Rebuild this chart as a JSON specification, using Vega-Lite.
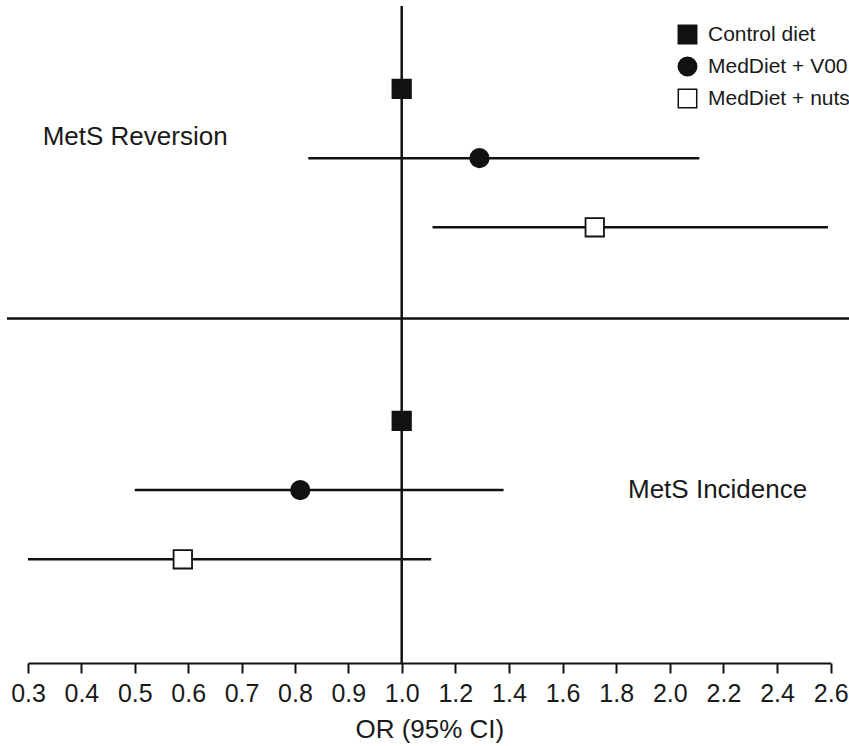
{
  "$schema": "https://vega.github.io/schema/vega-lite/v6.json",
  "width": 842,
  "height": 657,
  "autosize": {"type": "none"},
  "padding": {"left": 7, "top": 6, "right": 0, "bottom": 83},
  "background": "white",
  "config": {
    "font": "Liberation Sans",
    "view": {"stroke": null},
    "axis": {
      "domainColor": "#111111",
      "domainWidth": 2,
      "tickColor": "#111111",
      "tickWidth": 2,
      "tickSize": 10,
      "labelColor": "#1a1a1a",
      "labelFontSize": 25,
      "labelPadding": 8,
      "labelFlush": false,
      "labelOverlap": false,
      "labelBound": false,
      "titleColor": "#1a1a1a",
      "titleFontSize": 26,
      "titleFontWeight": "normal",
      "titlePadding": 10,
      "grid": false
    }
  },
  "datasets": {
    "est": [
      {"outcome": "MetS Reversion", "group": "Control diet", "row": 1.2, "or": 1.0, "lo": null, "hi": null},
      {"outcome": "MetS Reversion", "group": "MedDiet + V00", "row": 2.2, "or": 1.29, "lo": 0.825, "hi": 2.11},
      {"outcome": "MetS Reversion", "group": "MedDiet + nuts", "row": 3.2, "or": 1.72, "lo": 1.115, "hi": 2.59},
      {"outcome": "MetS Incidence", "group": "Control diet", "row": 6.0, "or": 1.0, "lo": null, "hi": null},
      {"outcome": "MetS Incidence", "group": "MedDiet + V00", "row": 7.0, "or": 0.81, "lo": 0.5, "hi": 1.38},
      {"outcome": "MetS Incidence", "group": "MedDiet + nuts", "row": 8.0, "or": 0.59, "lo": 0.3, "hi": 1.11}
    ],
    "labels": [
      {"label": "MetS Reversion", "or": 0.3275, "row": 2.01},
      {"label": "MetS Incidence", "or": 1.844, "row": 7.11}
    ]
  },
  "layer": [
    {
      "data": {"name": "est"},
      "transform": [{"filter": "datum.lo != null"}],
      "mark": {"type": "rule", "color": "#111111", "strokeWidth": 2.5},
      "encoding": {
        "x": {"field": "lo", "type": "quantitative", "title": "OR (95% CI)",
          "scale": {"domain": [0.3, 1.0, 2.6], "range": [21, 394.7, 823.7], "nice": false, "zero": false},
          "axis": {"values": [0.3, 0.4, 0.5, 0.6, 0.7, 0.8, 0.9, 1.0, 1.2, 1.4, 1.6, 1.8, 2.0, 2.2, 2.4, 2.6], "format": ".1f"}},
        "x2": {"field": "hi"},
        "y": {"field": "row", "type": "quantitative", "axis": null,
          "scale": {"domain": [0, 9.5], "reverse": true, "nice": false, "zero": false}}
      }
    },
    {
      "data": {"values": [{"or": 1.0}]},
      "mark": {"type": "rule", "color": "#111111", "strokeWidth": 2.5},
      "encoding": {
        "x": {"field": "or", "type": "quantitative", "title": "OR (95% CI)"}
      }
    },
    {
      "data": {"values": [{"row": 4.52}]},
      "mark": {"type": "rule", "color": "#111111", "strokeWidth": 2.5},
      "encoding": {
        "y": {"field": "row", "type": "quantitative"}
      }
    },
    {
      "data": {"name": "est"},
      "mark": {"type": "point", "filled": false, "stroke": "#111111", "strokeWidth": 1.8, "size": 340, "opacity": 1},
      "encoding": {
        "x": {"field": "or", "type": "quantitative", "title": "OR (95% CI)"},
        "y": {"field": "row", "type": "quantitative"},
        "shape": {"field": "group", "type": "nominal",
          "scale": {"domain": ["Control diet", "MedDiet + V00", "MedDiet + nuts"], "range": ["square", "circle", "square"]},
          "legend": {"orient": "none", "legendX": 670, "legendY": 18, "title": null, "padding": 0,
            "labelFontSize": 21, "labelColor": "#1a1a1a", "labelOffset": 10, "rowPadding": 7,
            "symbolSize": 340,
            "encode": {"symbols": {"update": {"stroke": {"value": "#111111"}, "strokeWidth": {"value": 1.8}, "opacity": {"value": 1}}}}}},
        "fill": {"field": "group", "type": "nominal",
          "scale": {"domain": ["Control diet", "MedDiet + V00", "MedDiet + nuts"], "range": ["#111111", "#111111", "#ffffff"]},
          "legend": {"orient": "none", "legendX": 670, "legendY": 18, "title": null, "padding": 0,
            "labelFontSize": 21, "labelColor": "#1a1a1a", "labelOffset": 10, "rowPadding": 7,
            "symbolSize": 340,
            "encode": {"symbols": {"update": {"stroke": {"value": "#111111"}, "strokeWidth": {"value": 1.8}, "opacity": {"value": 1}}}}}}
      }
    },
    {
      "data": {"name": "labels"},
      "mark": {"type": "text", "align": "left", "baseline": "alphabetic", "fontSize": 26, "color": "#1a1a1a"},
      "encoding": {
        "x": {"field": "or", "type": "quantitative", "title": "OR (95% CI)"},
        "y": {"field": "row", "type": "quantitative"},
        "text": {"field": "label"}
      }
    }
  ]
}
